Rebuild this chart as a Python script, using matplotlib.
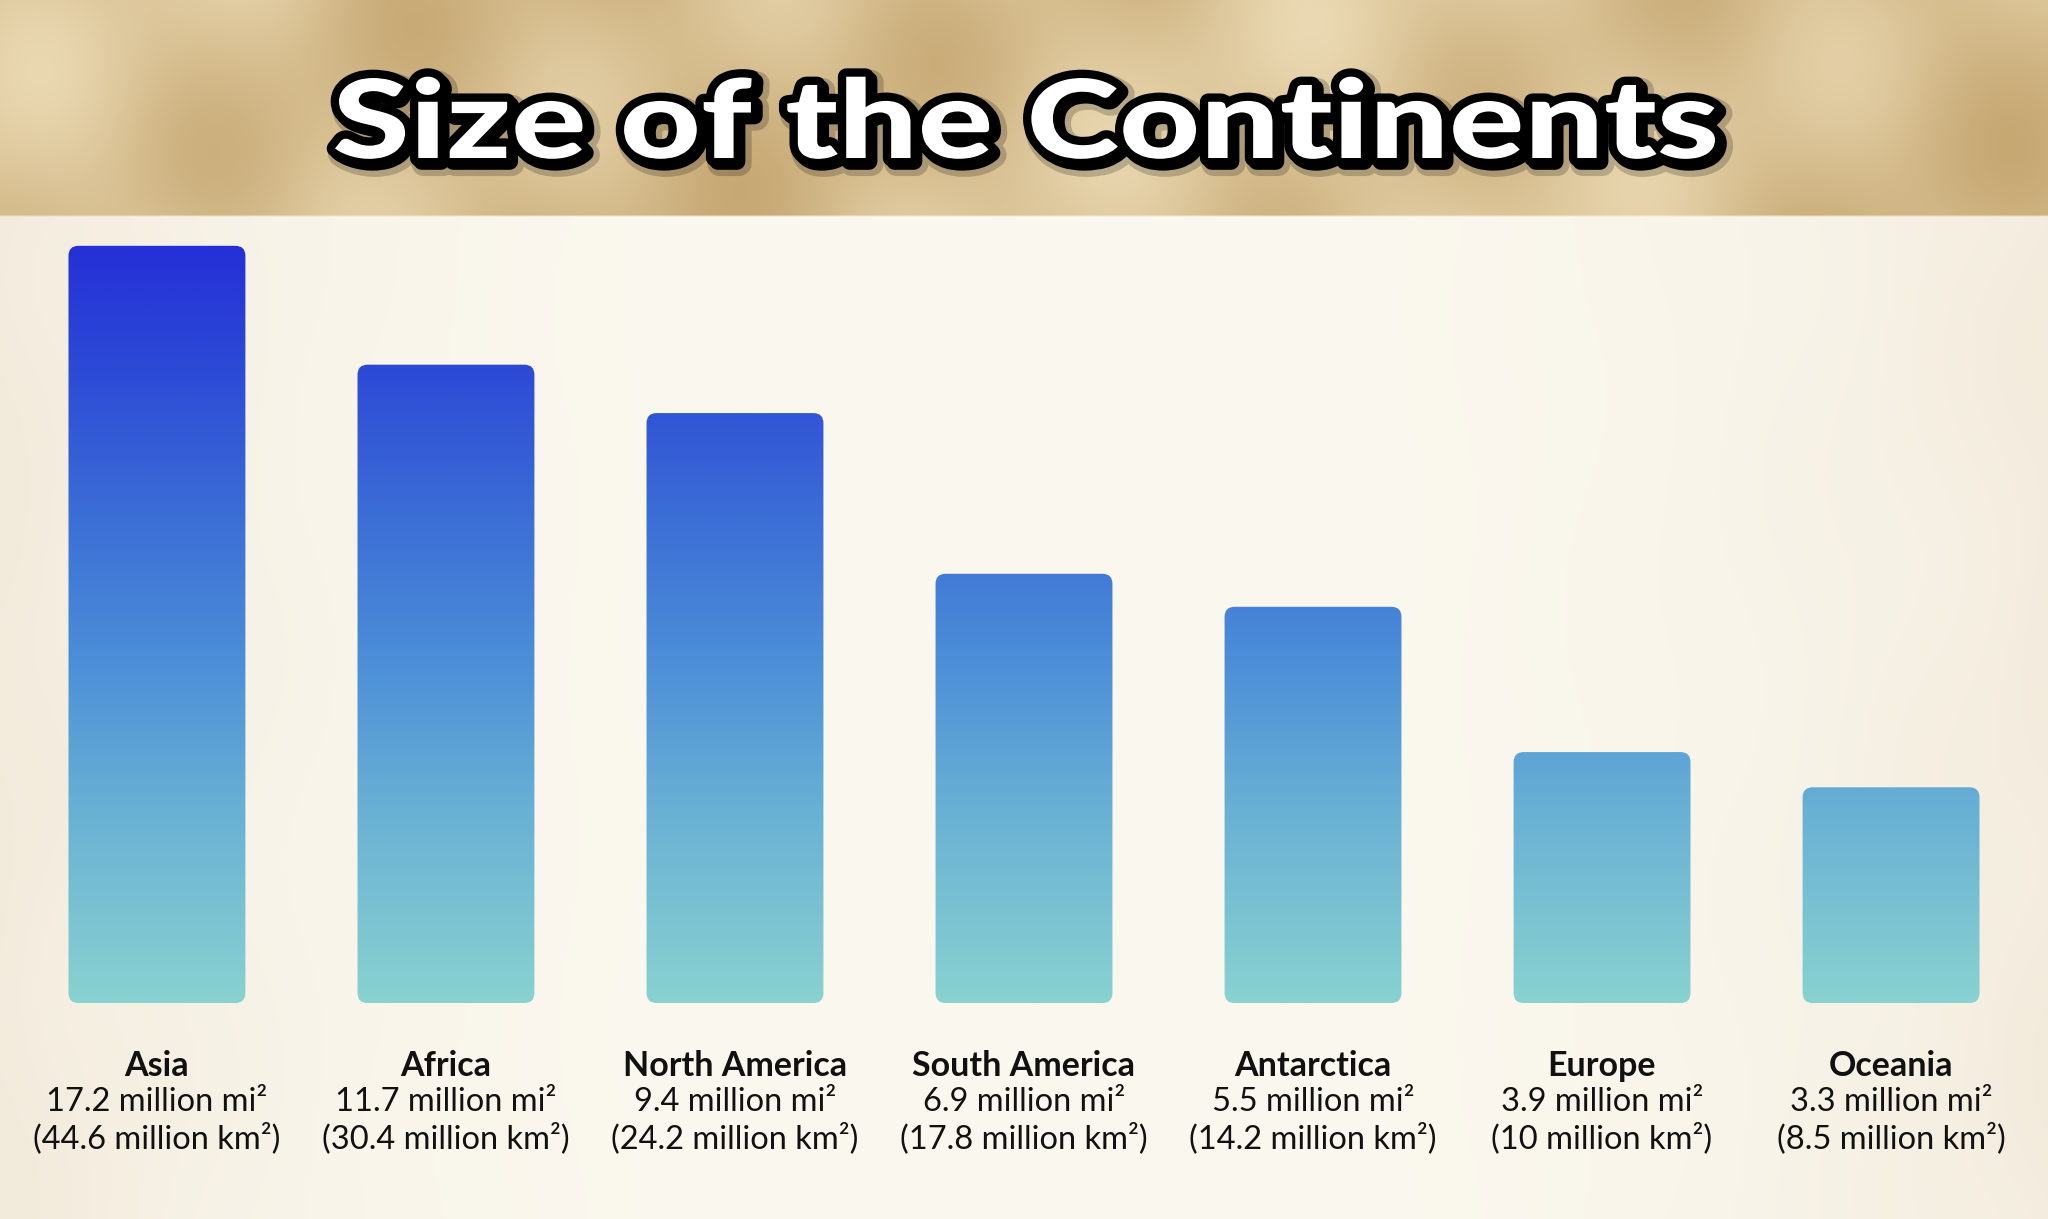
import matplotlib
matplotlib.use("Agg")
import matplotlib.pyplot as plt
import matplotlib.patheffects as pe
from matplotlib.colors import LinearSegmentedColormap
from matplotlib.patches import FancyBboxPatch, PathPatch
from matplotlib.textpath import TextPath
from matplotlib.font_manager import FontProperties
from matplotlib.transforms import Affine2D
import numpy as np

# Data
title = "Size of the Continents"
continents = ["Asia", "Africa", "North America", "South America",
              "Antarctica", "Europe", "Oceania"]
area_mi2 = ["17.2", "11.7", "9.4", "6.9", "5.5", "3.9", "3.3"]
area_km2 = ["44.6", "30.4", "24.2", "17.8", "14.2", "10", "8.5"]
# bar heights as drawn in the picture (not proportional to the areas),
# expressed on a scale where Asia = 17.2
bar_height = [17.2, 14.5, 13.4, 9.75, 9.0, 5.7, 4.9]

W, H = 2048, 1219
fig = plt.figure(figsize=(W / 100, H / 100), dpi=100)

# ---- background: blurred tan header band + cream body
bg = fig.add_axes([0, 0, 1, 1])
bg.axis("off")
yy, xx = np.mgrid[0:H:2, 0:W:2].astype(float)
wave = (0.45 + 0.2 * np.sin(xx / 95.0 + yy / 60.0)
        + 0.13 * np.sin(xx / 41.0 - yy / 90.0 + 1.3)
        + 0.12 * np.sin(xx / 230.0 + 2.0))
wave = np.clip(wave, 0, 1)[..., None]
dark = np.array([198, 168, 115]) / 255
light = np.array([238, 222, 185]) / 255
header = dark + (light - dark) * wave
edge = np.clip(np.abs(xx - W / 2) / (W / 2), 0, 1)[..., None] ** 3
cream = np.array([251, 248, 239]) / 255
cream_edge = np.array([240, 231, 214]) / 255
body = cream + (cream_edge - cream) * (0.6 * edge + 0.25 * wave * edge)
img = np.where((yy < 215)[..., None], header, body)
bg.imshow(img, extent=[0, W, H, 0], aspect="auto", interpolation="bilinear")
bg.set_xlim(0, W)
bg.set_ylim(H, 0)

# ---- bars
base_px, top_px = 1003, 215
ax = fig.add_axes([0, 1 - base_px / H, 1, (base_px - top_px) / H])
ax.patch.set_visible(False)
ax.axis("off")
x = np.arange(len(continents))
xlim = (-0.543, 6.543)
ylim = (0, 17.9)

grad = LinearSegmentedColormap.from_list(
    "bars",
    [(0.0, "#89d2d0"), (0.25, "#69b1d4"), (0.45, "#4c8fd8"),
     (0.62, "#3e72d6"), (0.85, "#2c48d6"), (1.0, "#2530d6")])
gvals = np.linspace(0, 1, 256)[:, None]

bars = ax.bar(x, bar_height, width=0.612, color="none", edgecolor="none")
xpp = (xlim[1] - xlim[0]) / W
ypp = (ylim[1] - ylim[0]) / (base_px - top_px)
for rect in bars:
    rx, ry = rect.get_x(), rect.get_y()
    rw, rh = rect.get_width(), rect.get_height()
    box = FancyBboxPatch((rx, ry), rw, rh,
                         boxstyle=f"round,pad=0,rounding_size={10 * xpp}",
                         mutation_aspect=ypp / xpp,
                         facecolor="none", edgecolor="none")
    ax.add_patch(box)
    im = ax.imshow(gvals, cmap=grad, origin="lower", aspect="auto",
                   extent=[xlim[0], xlim[1], 0, bar_height[0]],
                   interpolation="bilinear")
    im.set_clip_path(box)
ax.set_xlim(*xlim)
ax.set_ylim(*ylim)

# ---- labels under bars
for i, name in enumerate(continents):
    cx = (157 + 289 * i) / W
    fig.text(cx, 1 - 1066 / H, name, ha="center", va="center",
             fontsize=24.5, fontweight="bold", family="Lato", color="#111111")
    fig.text(cx, 1 - 1102 / H, f"{area_mi2[i]} million mi²", ha="center",
             va="center", fontsize=23.5, family="Lato", color="#111111")
    fig.text(cx, 1 - 1138 / H, f"({area_km2[i]} million km²)", ha="center",
             va="center", fontsize=23.5, family="Lato", color="#111111")

# ---- title: white heavy lettering with black outline and drop shadow,
# stretched to the width of the original lettering
ov = fig.add_axes([0, 0, 1, 1])
ov.axis("off")
ov.patch.set_visible(False)
ov.set_xlim(0, W)
ov.set_ylim(0, H)
fp = FontProperties(family="Lato", weight="black")
tp = TextPath((0, 0), title, size=100, prop=fp)
ext = tp.get_extents()
cap = TextPath((0, 0), "S", size=100, prop=fp).get_extents()
sx = 1380 / ext.width
sy = 80 / cap.y1
tpath = Affine2D().translate(-ext.x0, 0).scale(sx, sy).translate(335, H - 158).transform_path(tp)
ov.add_patch(PathPatch(
    tpath, facecolor="white", edgecolor="none",
    path_effects=[
        pe.Stroke(linewidth=18, foreground="black", alpha=0.2, offset=(4, -4), joinstyle="round"),
        pe.Stroke(linewidth=12, foreground="black", offset=(2.5, -2.5), joinstyle="round"),
        pe.Stroke(linewidth=12, foreground="black", joinstyle="round"),
        pe.Normal()]))

fig.savefig("out.png", dpi=100)
